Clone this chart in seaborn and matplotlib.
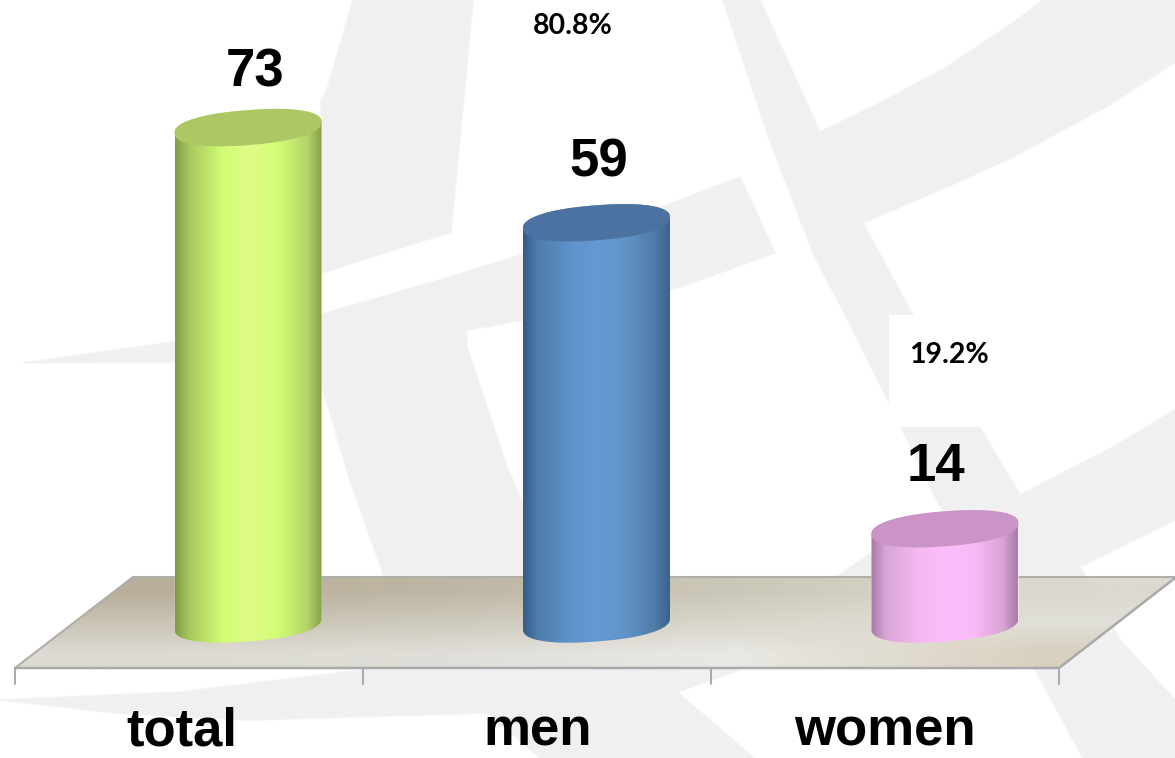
import numpy as np
import pandas as pd
import matplotlib
matplotlib.use("Agg")
import matplotlib.pyplot as plt
from matplotlib.colors import LinearSegmentedColormap, to_rgb
from matplotlib.patches import Polygon
import seaborn as sns

# ---- data ----
categories = ["total", "men", "women"]
values = [73, 59, 14]
shares = [None, "80.8%", "19.2%"]

bar_colors = ["#d4ff78", "#6398d0", "#fdbdfc"]
cap_colors = ["#adc765", "#4b72a0", "#ca94c6"]
gradient_stops = [
    ["#7f9c45", "#a9c95f", "#d2fd76", "#e0fb88", "#d2fd76", "#b5d568", "#85a148"],
    ["#345c86", "#4f7cab", "#5f93ca", "#6699d3", "#5f93c8", "#4f7ba8", "#3b628c"],
    ["#a878a5", "#d9a5d6", "#f6b8f2", "#fdbdfc", "#fabaf8", "#d9a3d5", "#a87ca5"],
]
label_shift = [-66, -59, -60]            # px from bar centre
value_shift = [(7, 55), (2, 60), (-9, 62)]  # px from bar top

W, H = 1175, 758
sns.set_theme(style="white")
fig = plt.figure(figsize=(W / 100, H / 100), dpi=100, facecolor="white")

# ---- background layer, in pixel coordinates ----
bg = fig.add_axes([0, 0, 1, 1], zorder=0)
bg.set_xlim(0, W)
bg.set_ylim(H, 0)
bg.set_axis_off()
wm = "#f0f0f0"
shapes = [
    [(353, 0), (473, 0), (451, 232), (321, 273), (321, 100), (327, 90)],
    [(740, 177), (680, 200), (560, 243), (433, 282), (312, 317), (167, 343), (23, 363),
     (167, 362), (312, 345), (320, 380), (350, 480), (383, 573), (383, 590), (560, 590),
     (507, 467), (467, 347), (467, 330), (580, 310), (680, 287), (775, 253)],
    [(723, 0), (760, 0), (820, 132), (880, 103), (947, 67), (1013, 23), (1043, 0), (1175, 0),
     (1175, 62), (1113, 103), (1013, 157), (947, 187), (863, 223), (910, 310), (1020, 495),
     (1113, 447), (1175, 410), (1175, 520), (1080, 567), (1120, 640), (1175, 700), (1175, 758),
     (1083, 758), (1037, 673), (937, 500), (853, 330), (813, 253), (767, 133)],
    [(955, 518), (871, 553), (830, 582), (1050, 582), (1000, 518)],
    [(0, 700), (180, 692), (363, 670), (740, 670), (677, 692), (754, 758), (540, 758),
     (488, 713), (249, 720), (115, 713)],
]
for s in shapes:
    bg.add_patch(Polygon(s, closed=True, fc="#f6f6f6", ec="#f6f6f6", lw=1.5, zorder=0.9))
for s in shapes:
    bg.add_patch(Polygon(s, closed=True, fc=wm, ec="none", zorder=1))
bg.add_patch(Polygon([(889, 315), (990, 315), (990, 427), (889, 427)], closed=True,
                     fc="white", ec="none", zorder=2))

floor_pts = [(15, 668), (133, 577), (1175, 577), (1059, 668)]
floor = Polygon(floor_pts, closed=True, fc="none", ec="none", zorder=3)
bg.add_patch(floor)
floor_rows = [
    ["#b5aa96", "#bcb3a0", "#cac5b5", "#dad7cd"],
    ["#c7c1b1", "#ccc7b9", "#d7d4c9", "#e0ded7"],
    ["#dbd8d0", "#dfddd6", "#e8e7e2", "#d8cfbd"],
]
floor_img = np.array([[to_rgb(c) for c in r] for r in floor_rows])
im = bg.imshow(floor_img, extent=(15, 1175, 668, 577), aspect="auto",
               interpolation="bilinear", zorder=3, alpha=0.95)
im.set_clip_path(floor)
edge = "#a9a9a9"
bg.plot([15, 133, 1175], [668, 577, 577], color="#b0aea8", lw=1.5, zorder=4, solid_joinstyle="miter")
bg.plot([15, 1059, 1175], [668, 668, 578], color=edge, lw=1.8, zorder=4, solid_joinstyle="miter")
for tx in (15, 363, 711, 1059):
    bg.plot([tx, tx], [668, 684], color=edge, lw=1.4, zorder=4)
bg.set_xlim(0, W)
bg.set_ylim(H, 0)

# ---- chart layer ----
ax = fig.add_axes([0, 0, 1, 1], zorder=1)
ax.patch.set_alpha(0)
px_x = 348.5        # px per category
px_y = 6.8          # px per unit
x0_px = 248
y0_px = 624
df = pd.DataFrame({"group": categories, "count": values})
sns.barplot(data=df, x="group", y="count", hue="group", palette=bar_colors,
            width=147 / px_x, legend=False, saturation=1, ax=ax, zorder=2)

shear = 5.5 / px_y
minor = 17.5 / px_y


def rim(cx, half_w, base, t):
    """Outline of a tilted, slightly squared ellipse around (cx, base)."""
    c = np.sign(np.cos(t)) * np.abs(np.cos(t)) ** 0.88
    s = np.sign(np.sin(t)) * np.abs(np.sin(t)) ** 0.88
    return cx + half_w * c, base + shear * c + minor * s


t_lo = np.linspace(np.pi, 2 * np.pi, 90)
t_up = np.linspace(0, np.pi, 90)
for i, bar in enumerate(ax.patches):
    left, w, top = bar.get_x(), bar.get_width(), bar.get_height()
    cx = left + w / 2
    x_lo, y_lo = rim(cx, w / 2, 0, t_lo)
    x_up, y_up = rim(cx, w / 2, top, t_up)
    body = Polygon(np.c_[np.r_[x_lo, x_up], np.r_[y_lo, y_up]], closed=True, fc="none",
                   ec="none", transform=ax.transData)
    ax.add_patch(body)
    bar.set_clip_path(body)
    cmap = LinearSegmentedColormap.from_list(
        f"c{i}", list(zip([0, .1, .33, .52, .7, .9, 1], gradient_stops[i])))
    g = ax.imshow(np.linspace(0, 1, 256)[None, :], cmap=cmap, aspect="auto",
                  extent=(left, left + w, -4, top + 4), zorder=3)
    g.set_clip_path(body)
    x_cl, y_cl = rim(cx, w / 2, top, np.linspace(0, 2 * np.pi, 180))
    ax.add_patch(Polygon(np.c_[x_cl, y_cl], closed=True, fc=cap_colors[i], ec="none", zorder=4))
    ax.annotate(str(values[i]), (cx, top),
                xytext=(value_shift[i][0] * .72, value_shift[i][1] * .72),
                textcoords="offset points", ha="center", va="center", fontsize=38,
                fontweight="bold", family="Liberation Sans", color="black", zorder=6)
    ax.annotate(categories[i], (cx, 0),
                xytext=(label_shift[i] * .72, -(731 - y0_px) * .72),
                textcoords="offset points", ha="center", va="center", fontsize=38,
                fontweight="bold", family="Liberation Sans", color="black", zorder=6,
                annotation_clip=False)

ax.set_xlim(-x0_px / px_x, (W - x0_px) / px_x)
ax.set_ylim(-(H - y0_px) / px_y, y0_px / px_y)
ax.set_axis_off()

bg.text(573, 26, shares[1], ha="center", va="center", fontsize=20.5, fontweight="bold",
        family="Lato", color="black", zorder=6)
bg.text(949, 355, shares[2], ha="center", va="center", fontsize=20.5, fontweight="bold",
        family="Lato", color="black", zorder=6)

fig.savefig("out.png", dpi=100)
